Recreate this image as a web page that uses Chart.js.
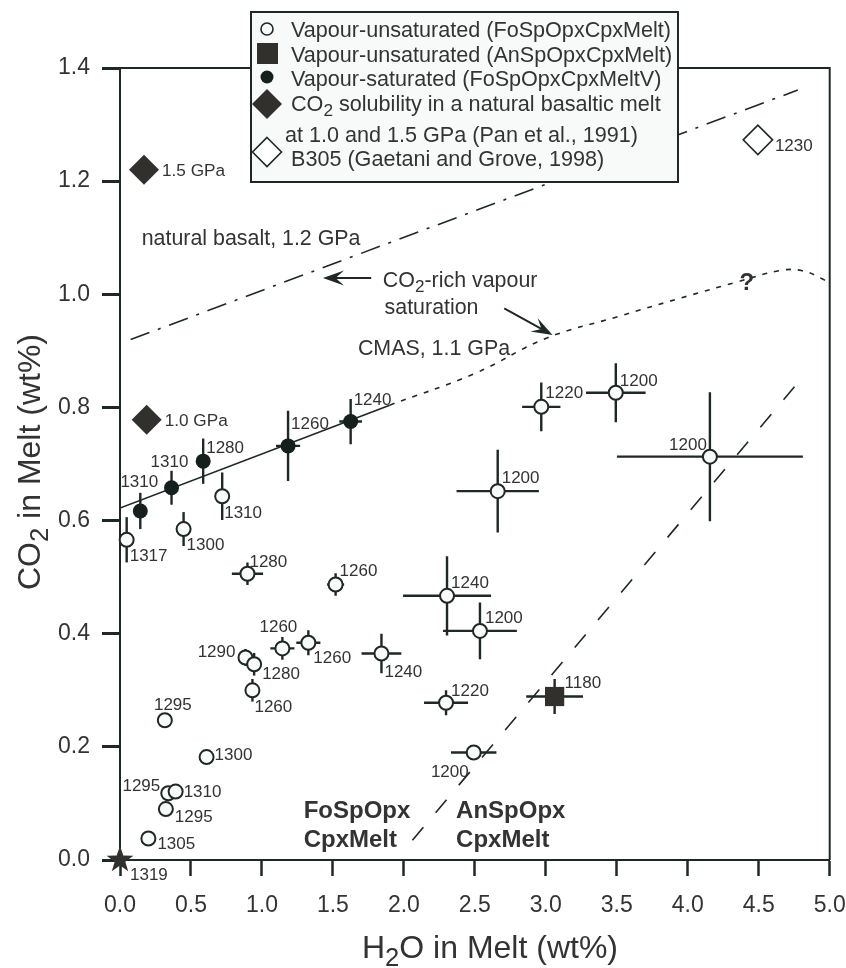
<!DOCTYPE html>
<html>
<head>
<meta charset="utf-8">
<script src="https://cdn.jsdelivr.net/npm/chart.js@4.4.1/dist/chart.umd.min.js"></script>
<style>
  body { margin: 0; background: #fff; }
  #chart { display: block; }
</style>
</head>
<body>
<canvas id="chart" width="846" height="968"></canvas>
<script>
// vapour-unsaturated, FoSpOpxCpxMelt (open circles)
const unsatFoH2O = [0.047, 0.448, 0.72, 0.898, 1.519, 0.884, 0.945, 0.933, 1.144, 1.327, 1.842, 0.316, 0.61, 0.34, 0.392, 0.323, 0.2, 2.297, 2.304, 2.536, 2.492, 2.968, 3.493, 4.156, 2.661];
const unsatFoCO2 = [0.566, 0.585, 0.643, 0.506, 0.487, 0.358, 0.346, 0.30, 0.374, 0.384, 0.365, 0.247, 0.182, 0.118, 0.121, 0.09, 0.038, 0.278, 0.467, 0.405, 0.19, 0.801, 0.826, 0.713, 0.652];
const unsatFoH2OErr = [0, 0, 0, 0.11, 0.06, 0, 0, 0, 0.085, 0.085, 0.14, 0, 0, 0, 0, 0, 0, 0.155, 0.31, 0.26, 0.16, 0.135, 0.21, 0.655, 0.29];
const unsatFoCO2Err = [0.04, 0.03, 0.042, 0.02, 0.02, 0.015, 0.02, 0.02, 0.02, 0.022, 0.035, 0, 0, 0, 0, 0, 0, 0.022, 0.07, 0.05, 0, 0.043, 0.052, 0.114, 0.073];
const unsatFoTemp = ['1317', '1300', '1310', '1280', '1260', '1290', '1280', '1260', '1260', '1260', '1240', '1295', '1300', '1295', '1310', '1295', '1305', '1220', '1240', '1200', '1200', '1220', '1200', '1200', '1200'];

// vapour-saturated, FoSpOpxCpxMeltV (filled circles)
const satH2O = [0.143, 0.363, 0.586, 1.184, 1.625];
const satCO2 = [0.617, 0.658, 0.705, 0.732, 0.775];
const satH2OErr = [0, 0, 0, 0.085, 0.08];
const satCO2Err = [0.032, 0.03, 0.04, 0.062, 0.04];
const satTemp = ['1310', '1310', '1280', '1260', '1240'];

// vapour-unsaturated, AnSpOpxCpxMelt (square)
const unsatAnH2O = [3.062];
const unsatAnCO2 = [0.289];
const unsatAnH2OErr = [0.2];
const unsatAnCO2Err = [0.031];
const unsatAnTemp = ['1180'];

// starting point
const startH2O = [0];
const startCO2 = [0];
const startTemp = ['1319'];

// Pan et al. 1991
const panH2O = [0.169, 0.188];
const panCO2 = [1.22, 0.778];
const panLabel = ['1.5 GPa', '1.0 GPa'];

// B305, Gaetani and Grove 1998
const b305H2O = [4.494];
const b305CO2 = [1.273];
const b305Temp = ['1230'];

// lines
const basaltH2O = [0.075, 4.775];
const basaltCO2 = [0.92, 1.361];
const cmasH2O = [0, 1.9];
const cmasCO2 = [0.622, 0.804];
const cmasExtH2O = [1.9, 2.5, 3.0, 3.5, 4.0, 4.35, 4.65, 4.8, 4.95, 5.0];
const cmasExtCO2 = [0.804, 0.86, 0.922, 0.96, 0.997, 1.022, 1.042, 1.042, 1.027, 1.018];
const boundaryH2O = [2.06, 4.78];
const boundaryCO2 = [0.035, 0.845];

const xTicks = [0, 0.5, 1, 1.5, 2, 2.5, 3, 3.5, 4, 4.5, 5];
const yTicks = [0, 0.2, 0.4, 0.6, 0.8, 1.0, 1.2, 1.4];

// label offsets (px) from the marker: [dx, dy(baseline), align]
const unsatFoLabelPos = [
  [3, 21, 'left'], [3, 21, 'left'], [2, 22, 'left'], [2, -7, 'left'], [4, -8, 'left'],
  [-10, 0, 'right'], [8, 15, 'left'], [2, 22, 'left'], [-4, -16, 'center'], [5, 20, 'left'],
  [3, 23, 'left'], [8, -10, 'center'], [8, 3, 'left'], [-8, -2, 'right'], [8, 5, 'left'],
  [9, 13, 'left'], [9, 10, 'left'], [5, -7, 'left'], [4, -8, 'left'], [5, -8, 'left'],
  [-5, 24, 'right'], [4, -9, 'left'], [4, -7, 'left'], [-3, -7, 'right'], [4, -8, 'left']
];
const satLabelPos = [[-1, -24, 'center'], [-2, -21, 'center'], [3, -8, 'left'], [3, -17, 'left'], [3, -17, 'left']];

const FONT = "'Liberation Sans', Arial, Helvetica, sans-serif";
const INK = '#1e2826';
const TEXT = '#333333';
const GREY = '#31302c';
const OPEN = '#f8fbfa';

function pts(xs, ys) {
  return xs.map((v, i) => ({ x: v, y: ys[i] }));
}

// filled five point star for the starting composition
function makeStar() {
  const c = document.createElement('canvas');
  c.width = 30; c.height = 30;
  const g = c.getContext('2d');
  g.fillStyle = GREY;
  g.beginPath();
  for (let i = 0; i < 10; i++) {
    const r = i % 2 === 0 ? 14 : 5.6;
    const a = -Math.PI / 2 + i * Math.PI / 5;
    g.lineTo(15 + r * Math.cos(a), 15 + r * Math.sin(a));
  }
  g.closePath();
  g.fill();
  return c;
}

function drawSub(ctx, parts, x, y, size, align) {
  // parts: [text, isSub]
  const subSize = size * 0.8;
  let w = 0;
  parts.forEach(p => {
    ctx.font = (p[1] ? subSize : size) + 'px ' + FONT;
    w += ctx.measureText(p[0]).width;
  });
  let cx = align === 'center' ? x - w / 2 : x;
  ctx.textAlign = 'left';
  ctx.textBaseline = 'alphabetic';
  parts.forEach(p => {
    ctx.font = (p[1] ? subSize : size) + 'px ' + FONT;
    ctx.fillText(p[0], cx, p[1] ? y + size * 0.24 : y);
    cx += ctx.measureText(p[0]).width;
  });
}

function arrow(ctx, x1, y1, x2, y2) {
  const a = Math.atan2(y2 - y1, x2 - x1);
  const len = 21, hw = 7.5;
  ctx.beginPath();
  ctx.moveTo(x1, y1);
  ctx.lineTo(x2 - Math.cos(a) * 8, y2 - Math.sin(a) * 8);
  ctx.stroke();
  ctx.beginPath();
  ctx.moveTo(x2, y2);
  ctx.lineTo(x2 - len * Math.cos(a) + hw * Math.sin(a), y2 - len * Math.sin(a) - hw * Math.cos(a));
  ctx.lineTo(x2 - len * 0.6 * Math.cos(a), y2 - len * 0.6 * Math.sin(a));
  ctx.lineTo(x2 - len * Math.cos(a) - hw * Math.sin(a), y2 - len * Math.sin(a) + hw * Math.cos(a));
  ctx.closePath();
  ctx.fill();
}

const framePlugin = {
  id: 'frame',
  beforeDatasetsDraw(chart) {
    const { ctx, chartArea: a } = chart;
    ctx.save();
    ctx.strokeStyle = INK;
    ctx.lineWidth = 2;
    ctx.beginPath();
    ctx.moveTo(a.left, a.top);
    ctx.lineTo(a.right, a.top);
    ctx.lineTo(a.right, a.bottom);
    ctx.stroke();
    ctx.restore();
  }
};

const errorBarPlugin = {
  id: 'errorBars',
  beforeDatasetsDraw(chart) {
    const { ctx, scales: { x, y } } = chart;
    ctx.save();
    ctx.strokeStyle = INK;
    ctx.lineWidth = 2.4;
    chart.data.datasets.forEach(ds => {
      if (!ds.xErr) return;
      ds.data.forEach((p, i) => {
        const px = x.getPixelForValue(p.x), py = y.getPixelForValue(p.y);
        const ex = ds.xErr[i], ey = ds.yErr[i];
        ctx.beginPath();
        if (ex) {
          ctx.moveTo(x.getPixelForValue(p.x - ex), py);
          ctx.lineTo(x.getPixelForValue(p.x + ex), py);
        }
        if (ey) {
          ctx.moveTo(px, y.getPixelForValue(p.y - ey));
          ctx.lineTo(px, y.getPixelForValue(p.y + ey));
        }
        ctx.stroke();
      });
    });
    ctx.restore();
  }
};

const labelPlugin = {
  id: 'pointLabels',
  afterDatasetsDraw(chart) {
    const { ctx, scales: { x, y } } = chart;
    ctx.save();
    ctx.fillStyle = TEXT;
    ctx.textBaseline = 'alphabetic';
    chart.data.datasets.forEach(ds => {
      if (!ds.tags) return;
      ctx.font = (ds.tagSize || 17) + 'px ' + FONT;
      ds.data.forEach((p, i) => {
        const pos = ds.tagPos[i];
        ctx.textAlign = pos[2];
        ctx.fillText(ds.tags[i], x.getPixelForValue(p.x) + pos[0], y.getPixelForValue(p.y) + pos[1]);
      });
    });

    // annotations
    const X = v => x.getPixelForValue(v), Y = v => y.getPixelForValue(v);
    ctx.textAlign = 'left';
    ctx.font = '21.4px ' + FONT;
    ctx.fillText('natural basalt, 1.2 GPa', X(0.153), Y(1.087));
    drawSub(ctx, [['CO', false], ['2', true], ['-rich vapour', false]], X(1.852), Y(1.013), 21.4, 'left');
    ctx.font = '21.4px ' + FONT;
    ctx.fillText('saturation', X(1.864), Y(0.966));
    ctx.fillText('CMAS, 1.1 GPa', X(1.676), Y(0.893));
    ctx.font = 'bold 24px ' + FONT;
    ctx.fillText('FoSpOpx', X(1.294), Y(0.074));
    ctx.fillText('CpxMelt', X(1.294), Y(0.0235));
    ctx.fillText('AnSpOpx', X(2.368), Y(0.074));
    ctx.fillText('CpxMelt', X(2.368), Y(0.0235));
    ctx.textAlign = 'center';
    ctx.fillText('?', X(4.416), Y(1.008));

    ctx.fillStyle = INK;
    ctx.strokeStyle = INK;
    ctx.lineWidth = 2;
    arrow(ctx, X(1.77), Y(1.029), X(1.43), Y(1.029));
    arrow(ctx, X(2.707), Y(0.975), X(3.047), Y(0.928));
    ctx.restore();
  },
  afterDraw(chart) {
    const { ctx } = chart;
    ctx.save();
    // axis titles
    ctx.fillStyle = TEXT;
    drawSub(ctx, [['H', false], ['2', true], ['O in Melt (wt%)', false]], 490, 958, 32, 'center');
    ctx.save();
    ctx.translate(40, 462);
    ctx.rotate(-Math.PI / 2);
    drawSub(ctx, [['CO', false], ['2', true], [' in Melt (wt%)', false]], 0, 0, 32, 'center');
    ctx.restore();

    // legend box
    ctx.fillStyle = '#f8faf9';
    ctx.strokeStyle = INK;
    ctx.lineWidth = 2;
    ctx.fillRect(251, 12, 427, 170);
    ctx.strokeRect(251, 12, 427, 170);

    ctx.lineWidth = 1.6;
    ctx.fillStyle = OPEN;
    ctx.beginPath(); ctx.arc(267, 29, 6, 0, Math.PI * 2); ctx.fill(); ctx.stroke();
    ctx.fillStyle = GREY;
    ctx.fillRect(257, 43, 21, 21);
    ctx.fillStyle = '#14201e';
    ctx.beginPath(); ctx.arc(267, 77, 6.5, 0, Math.PI * 2); ctx.fill();
    ctx.fillStyle = GREY;
    ctx.beginPath();
    ctx.moveTo(267, 89); ctx.lineTo(282, 104); ctx.lineTo(267, 119); ctx.lineTo(252, 104);
    ctx.closePath(); ctx.fill();
    ctx.fillStyle = '#ffffff';
    ctx.beginPath();
    ctx.moveTo(267, 137.5); ctx.lineTo(281.5, 152); ctx.lineTo(267, 166.5); ctx.lineTo(252.5, 152);
    ctx.closePath(); ctx.fill(); ctx.stroke();

    ctx.fillStyle = TEXT;
    ctx.font = '21.6px ' + FONT;
    ctx.textAlign = 'left';
    ctx.textBaseline = 'alphabetic';
    ctx.fillText('Vapour-unsaturated (FoSpOpxCpxMelt)', 291, 37);
    ctx.fillText('Vapour-unsaturated (AnSpOpxCpxMelt)', 291, 62);
    ctx.fillText('Vapour-saturated (FoSpOpxCpxMeltV)', 291, 86);
    drawSub(ctx, [['CO', false], ['2', true], [' solubility in a natural basaltic melt', false]], 291, 111, 21.6, 'left');
    ctx.font = '21.6px ' + FONT;
    ctx.fillText('at 1.0 and 1.5 GPa (Pan et al., 1991)', 285, 142);
    ctx.fillText('B305 (Gaetani and Grove, 1998)', 291, 166);
    ctx.restore();
  }
};

const pointDefaults = { showLine: false, clip: false, pointHoverRadius: 0 };

new Chart(document.getElementById('chart'), {
  type: 'scatter',
  data: {
    datasets: [
      Object.assign({}, pointDefaults, {
        data: pts(startH2O, startCO2), pointStyle: makeStar(),
        tags: startTemp, tagPos: [[10, 20, 'left']]
      }),
      Object.assign({}, pointDefaults, {
        data: pts(unsatAnH2O, unsatAnCO2), pointStyle: 'rect', pointRadius: 13.6,
        backgroundColor: GREY, borderColor: GREY, borderWidth: 0,
        xErr: unsatAnH2OErr, yErr: unsatAnCO2Err,
        tags: unsatAnTemp, tagPos: [[10, -9, 'left']]
      }),
      Object.assign({}, pointDefaults, {
        data: pts(satH2O, satCO2), pointStyle: 'circle', pointRadius: 7.5,
        backgroundColor: '#14201e', borderColor: '#14201e', borderWidth: 0,
        xErr: satH2OErr, yErr: satCO2Err,
        tags: satTemp, tagPos: satLabelPos
      }),
      Object.assign({}, pointDefaults, {
        data: pts(unsatFoH2O, unsatFoCO2), pointStyle: 'circle', pointRadius: 7,
        backgroundColor: OPEN, borderColor: INK, borderWidth: 2,
        xErr: unsatFoH2OErr, yErr: unsatFoCO2Err,
        tags: unsatFoTemp, tagPos: unsatFoLabelPos
      }),
      Object.assign({}, pointDefaults, {
        data: pts(panH2O, panCO2), pointStyle: 'rectRot', pointRadius: 15,
        backgroundColor: GREY, borderColor: GREY, borderWidth: 0,
        tags: panLabel, tagSize: 17.2, tagPos: [[18, 6, 'left'], [18, 6, 'left']]
      }),
      Object.assign({}, pointDefaults, {
        data: pts(b305H2O, b305CO2), pointStyle: 'rectRot', pointRadius: 14.7,
        backgroundColor: '#ffffff', borderColor: INK, borderWidth: 1.6,
        tags: b305Temp, tagPos: [[17, 11, 'left']]
      }),
      {
        data: pts(cmasH2O, cmasCO2), showLine: true, pointRadius: 0,
        borderColor: INK, borderWidth: 1.6
      },
      {
        data: pts(cmasExtH2O, cmasExtCO2), showLine: true, pointRadius: 0, tension: 0.4,
        borderColor: INK, borderWidth: 1.6, borderDash: [5, 7]
      },
      {
        data: pts(basaltH2O, basaltCO2), showLine: true, pointRadius: 0,
        borderColor: INK, borderWidth: 1.6, borderDash: [20, 9, 3, 9]
      },
      {
        data: pts(boundaryH2O, boundaryCO2), showLine: true, pointRadius: 0,
        borderColor: INK, borderWidth: 1.6, borderDash: [17, 19]
      }
    ]
  },
  options: {
    responsive: false,
    devicePixelRatio: 1,
    animation: false,
    events: [],
    layout: { padding: { left: 0, top: 68, right: 15, bottom: 0 } },
    plugins: { legend: { display: false }, tooltip: { enabled: false } },
    scales: {
      x: {
        type: 'linear', min: 0, max: 5,
        afterBuildTicks: s => { s.ticks = xTicks.map(v => ({ value: v })); },
        afterFit: s => { s.height = 108; s.paddingLeft = 0; s.paddingRight = 0; },
        border: { display: true, color: INK, width: 2 },
        grid: { drawOnChartArea: false, drawTicks: true, tickLength: 16, tickWidth: 2.5, tickColor: INK },
        ticks: { color: TEXT, padding: 16, font: { family: FONT, size: 23 }, callback: v => v.toFixed(1) }
      },
      y: {
        type: 'linear', min: 0, max: 1.4,
        afterBuildTicks: s => { s.ticks = yTicks.map(v => ({ value: v })); },
        afterFit: s => { s.width = 120; s.paddingTop = 0; s.paddingBottom = 0; },
        border: { display: true, color: INK, width: 2 },
        grid: { drawOnChartArea: false, drawTicks: true, tickLength: 18, tickWidth: 3, tickColor: INK },
        ticks: { color: TEXT, padding: 12, font: { family: FONT, size: 23 }, callback: v => v.toFixed(1) }
      }
    }
  },
  plugins: [framePlugin, errorBarPlugin, labelPlugin]
});
</script>
</body>
</html>
